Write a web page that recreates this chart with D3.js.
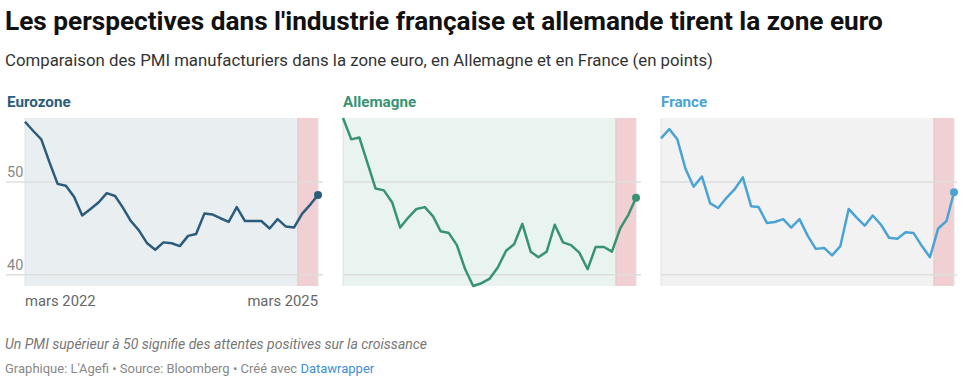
<!DOCTYPE html>
<html><head><meta charset="utf-8">
<script src="https://cdn.jsdelivr.net/npm/d3@7"></script>
<style>body{margin:0;background:#fff;font-family:Roboto,sans-serif}</style>
</head><body><svg id="c" width="970" height="379" xmlns="http://www.w3.org/2000/svg"></svg>
<script>
// ---- data ----
const months = ["2022-03","2022-04","2022-05","2022-06","2022-07","2022-08","2022-09","2022-10","2022-11","2022-12",
  "2023-01","2023-02","2023-03","2023-04","2023-05","2023-06","2023-07","2023-08","2023-09","2023-10","2023-11","2023-12",
  "2024-01","2024-02","2024-03","2024-04","2024-05","2024-06","2024-07","2024-08","2024-09","2024-10","2024-11","2024-12",
  "2025-01","2025-02","2025-03"];
const eurozone = [56.5,55.5,54.6,52.1,49.8,49.6,48.4,46.4,47.1,47.8,
  48.8,48.5,47.3,45.8,44.8,43.4,42.7,43.5,43.4,43.1,44.2,44.4,
  46.6,46.5,46.1,45.7,47.3,45.8,45.8,45.8,45.0,46.0,45.2,45.1,
  46.6,47.6,48.6];
const germany = [56.9,54.6,54.8,52.0,49.3,49.1,47.8,45.1,46.2,47.1,
  47.3,46.3,44.7,44.5,43.2,40.6,38.8,39.1,39.6,40.8,42.6,43.3,
  45.5,42.5,41.9,42.5,45.4,43.5,43.2,42.4,40.6,43.0,43.0,42.5,
  45.0,46.5,48.3];
const france = [54.7,55.7,54.6,51.4,49.5,50.6,47.7,47.2,48.3,49.2,
  50.5,47.4,47.3,45.6,45.7,46.0,45.1,46.0,44.2,42.8,42.9,42.1,
  43.1,47.1,46.2,45.3,46.4,45.4,44.0,43.9,44.6,44.5,43.1,41.9,
  45.0,45.8,48.9];
const seriesNames = ["Eurozone","Allemagne","France"];
const yTicks = [40, 50];
const xTickDates = ["2022-03","2025-03"];
const xTickLabels = ["mars 2022","mars 2025"];
const highlight = ["2024-12-16","2025-03-01"];

// ---- drawing ----
const svg = d3.select("#c");
const parseM = d3.timeParse("%Y-%m");
const parseD = d3.timeParse("%Y-%m-%d");
const dates = months.map(parseM);
const allVals = eurozone.concat(germany, france);

const plotTop = 118, plotBottom = 286, plotW = 293;
const y = d3.scaleLinear().domain(d3.extent(allVals)).range([plotBottom, plotTop]);

svg.append("text").attr("x",5).attr("y",30)
  .attr("font-size",26.2).attr("font-weight",700).attr("fill","#111")
  .text("Les perspectives dans l'industrie française et allemande tirent la zone euro");
svg.append("text").attr("x",5).attr("y",66)
  .attr("font-size",16.8).attr("fill","#333")
  .text("Comparaison des PMI manufacturiers dans la zone euro, en Allemagne et en France (en points)");

const panels = [
  {values: eurozone, color:"#2c5c7c", bg:"#e9eef1", x0:25, gl:6, gr:323, tx:7, axis:true},
  {values: germany, color:"#379372", bg:"#e9f3ef", x0:343, gl:343, gr:641, tx:343, axis:false},
  {values: france, color:"#4aa3d3", bg:"#f2f2f2", x0:661, gl:661, gr:957, tx:661, axis:false}
];

panels.forEach((p, i) => {
  const g = svg.append("g");
  const x = d3.scaleTime().domain(d3.extent(dates)).range([p.x0, p.x0 + plotW]);
  g.append("text").attr("x", p.tx).attr("y", 107)
    .attr("font-size", 15.2).attr("font-weight", 700).attr("fill", p.color)
    .text(seriesNames[i]);
  g.append("rect").attr("x", x.range()[0]).attr("y", plotTop)
    .attr("width", x.range()[1]-x.range()[0]).attr("height", plotBottom-plotTop).attr("fill", p.bg);
  const h0 = x(parseD(highlight[0])), h1 = x(parseD(highlight[1]));
  g.append("rect").attr("x", h0).attr("y", plotTop).attr("width", h1-h0).attr("height", plotBottom-plotTop)
    .attr("fill", "#f0d0d2");
  g.append("line").attr("x1", h0).attr("x2", h0).attr("y1", plotTop).attr("y2", plotBottom)
    .attr("stroke", "#e3c3c5").attr("stroke-width", 1);
  [x.range()[0], x.range()[1]].forEach(ex => {
    g.append("line").attr("x1", ex).attr("x2", ex).attr("y1", plotTop).attr("y2", plotBottom)
      .attr("stroke", "#e2e2e2").attr("stroke-width", 1);
  });
  yTicks.forEach(t => {
    g.append("line").attr("x1", p.gl).attr("x2", p.gr).attr("y1", y(t)).attr("y2", y(t))
      .attr("stroke", "#dedede").attr("stroke-width", 1.5);
    if (p.axis) {
      g.append("text").attr("x", 7).attr("y", y(t) - 5)
        .attr("font-size", 14.5).attr("fill", "#888").text(t);
    }
  });
  if (p.axis) {
    xTickDates.forEach((d, k) => {
      g.append("text").attr("x", x(parseM(d))).attr("y", 306)
        .attr("text-anchor", k === 0 ? "start" : "end")
        .attr("font-size", 14.8).attr("fill", "#666").text(xTickLabels[k]);
    });
  }
  const line = d3.line().x((d, j) => x(dates[j])).y(d => y(d));
  g.append("path").datum(p.values).attr("d", line).attr("fill", "none")
    .attr("stroke", p.color).attr("stroke-width", 2.5).attr("stroke-linejoin", "round");
  const last = p.values.length - 1;
  g.append("circle").attr("cx", x(dates[last])).attr("cy", y(p.values[last])).attr("r", 4)
    .attr("fill", p.color);
});

svg.append("text").attr("x",5).attr("y",349).attr("font-size",14).attr("font-style","italic")
  .attr("fill","#777").text("Un PMI supérieur à 50 signifie des attentes positives sur la croissance");
const cr = svg.append("text").attr("x",5).attr("y",373).attr("font-size",13).attr("fill","#888");
cr.append("tspan").text("Graphique: L'Agefi • Source: Bloomberg • Créé avec ");
cr.append("tspan").attr("fill","#3d8fd6").text("Datawrapper");
</script></body></html>
